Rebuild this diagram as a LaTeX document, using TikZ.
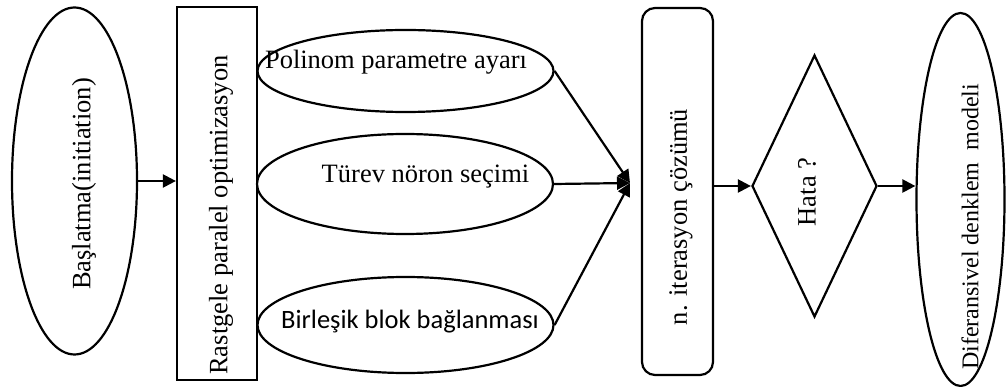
\documentclass[tikz,border=0pt]{standalone}
\usepackage{fontspec}
\setmainfont{Liberation Serif}
\newfontfamily\calfont{Carlito}
\usetikzlibrary{shapes.geometric, arrows.meta}
\tikzset{ov/.style = {ellipse,   line width=2.2pt, inner sep=0pt, draw},
         bx/.style = {rectangle, line width=2.2pt, inner sep=0pt, draw},
         rb/.style = {rectangle, rounded corners=13pt, line width=2.2pt, inner sep=0pt, draw},
         dm/.style = {diamond,   line width=2.2pt, inner sep=0pt, draw},
         tx/.style = {inner sep=0pt, font=\fontsize{26.5}{32}\selectfont},
         vt/.style = {tx, rotate=90},
         ar/.style = {->, line width=2.2pt}}

\begin{document}
\begin{tikzpicture}[x=1pt, y=-1pt, >={Triangle[length=13pt, width=13pt]}]
    \useasboundingbox (0,0) rectangle (1006,387);
    % shapes
    \node[ov, minimum width=125pt, minimum height=347pt] (s) at (74.5,181) {};
    \node[bx, minimum width=80pt,  minimum height=373pt] (r) at (217,193.5) {};
    \node[ov, minimum width=296pt, minimum height=82pt]  (p) at (405.5,71) {};
    \node[ov, minimum width=296pt, minimum height=100pt] (d) at (405,184) {};
    \node[ov, minimum width=296pt, minimum height=96pt]  (b) at (405.5,325) {};
    \node[rb, minimum width=71pt,  minimum height=367pt] (i) at (677.5,191.5) {};
    \node[dm, minimum width=125pt, minimum height=262pt] (h) at (814.5,186) {};
    \node[ov, minimum width=88pt,  minimum height=373pt] (m) at (960.5,199.5) {};
    \coordinate (j) at (630,183);
    % texts
    \node[vt] (st) at (84,184)    {Başlatma(initiation)};
    \node[vt] (rt) at (221,215)   {Rastgele paralel optimizasyon};
    \node[tx] (pt) at (396,62)    {Polinom parametre ayarı};
    \node[tx] (dt) at (425.5,177) {Türev nöron seçimi};
    \node[tx, font=\fontsize{26.5}{32}\calfont] (bt) at (410,322) {Birleşik blok bağlanması};
    \node[vt] (it) at (681,217)   {n. iterasyon çözümü};
    \node[vt] (ht) at (807,192)   {Hata ?};
    \node[vt, font=\fontsize{24}{29}\selectfont] (mt) at (970,227) {Diferansivel denklem\ \ modeli};
    % arrows
    \draw[ar] (s.east) -- (s.east -| r.west);
    \draw[ar] (p.east) -- (j);
    \draw[ar] (d.east) -- (j);
    \draw[ar] (b.east) -- (j);
    \draw[ar] (i.east |- h.west) -- (h.west);
    \draw[ar] (h.east) -- (h.east -| m.west);
\end{tikzpicture}
\end{document}
